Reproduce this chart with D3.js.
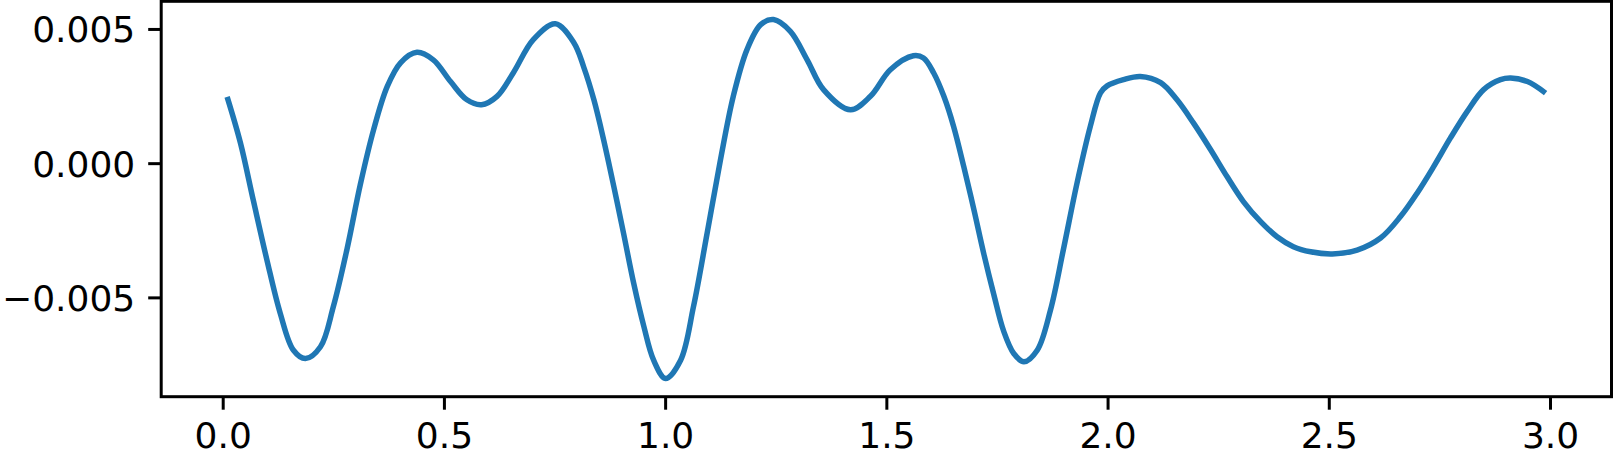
<!DOCTYPE html>
<html>
<head>
    <meta charset="utf-8">
    <style>
        body { margin: 0; background: #fff; }
        svg { display: block; }
        .tick text { font-family: "DejaVu Sans", sans-serif; font-size: 36px; fill: #000; }
        .tick line { stroke: #000; stroke-width: 3px; }
    </style>
    <script src="https://d3js.org/d3.v7.min.js"></script>
</head>
<body>
    <script>
        // values
        const xs = [0.01, 0.040, 0.069, 0.100, 0.130, 0.160, 0.187, 0.221, 0.250, 0.281, 0.311, 0.341, 0.372, 0.402, 0.439, 0.476, 0.515, 0.552, 0.585, 0.620, 0.657, 0.702, 0.752, 0.794, 0.816, 0.839, 0.861, 0.884, 0.906, 0.929, 0.952, 0.974, 1.001, 1.035, 1.064, 1.095, 1.125, 1.154, 1.185, 1.216, 1.245, 1.283, 1.321, 1.358, 1.419, 1.464, 1.509, 1.561, 1.584, 1.607, 1.630, 1.652, 1.675, 1.698, 1.720, 1.743, 1.765, 1.788, 1.811, 1.841, 1.871, 1.900, 1.931, 1.961, 1.984, 1.999, 2.036, 2.074, 2.120, 2.157, 2.194, 2.233, 2.270, 2.307, 2.346, 2.383, 2.420, 2.459, 2.508, 2.564, 2.617, 2.662, 2.700, 2.737, 2.775, 2.813, 2.850, 2.888, 2.911, 2.949, 2.99];
        const ys = [0.00247, 0.00076, -0.00137, -0.00361, -0.00559, -0.00697, -0.00728, -0.00684, -0.00535, -0.00320, -0.00080, 0.00124, 0.00286, 0.00374, 0.00413, 0.00385, 0.00304, 0.00236, 0.00218, 0.00249, 0.00337, 0.00460, 0.00519, 0.00448, 0.00358, 0.00236, 0.00087, -0.00087, -0.00261, -0.00448, -0.00609, -0.00734, -0.00802, -0.00734, -0.00535, -0.00260, 0.00012, 0.00249, 0.00423, 0.00516, 0.00535, 0.00491, 0.00385, 0.00274, 0.00199, 0.00249, 0.00348, 0.00400, 0.00392, 0.00336, 0.00249, 0.00137, -0.00013, -0.00174, -0.00336, -0.00490, -0.00625, -0.00709, -0.00740, -0.00697, -0.00547, -0.00323, -0.00074, 0.00137, 0.00262, 0.00288, 0.00311, 0.00323, 0.00300, 0.00236, 0.00150, 0.00050, -0.00050, -0.00143, -0.00218, -0.00274, -0.00311, -0.00330, -0.00338, -0.00324, -0.00279, -0.00199, -0.00111, -0.00013, 0.00094, 0.00193, 0.00274, 0.00311, 0.00317, 0.00304, 0.00261];
        const xTicks = [0, 0.5, 1, 1.5, 2, 2.5, 3];
        const yTicks = [-0.005, 0, 0.005];

        const width = 1613, height = 453;
        const margin = { left: 161.2, right: 1611.5, top: 1.3, bottom: 396.7 };

        const x = d3.scaleLinear().domain([-0.139, 3.139]).range([margin.left, margin.right]);
        const y = d3.scaleLinear().domain([-0.0087, 0.00603]).range([margin.bottom, margin.top]);

        const svg = d3.select('body').append('svg')
            .attr('width', width)
            .attr('height', height);

        const points = xs.map((v, i) => [v, ys[i]]);

        const line = d3.line()
            .x(d => x(d[0]))
            .y(d => y(d[1]))
            .curve(d3.curveCatmullRom.alpha(0.5));

        svg.append('path')
            .datum(points)
            .attr('fill', 'none')
            .attr('stroke', '#1f77b4')
            .attr('stroke-width', 5.5)
            .attr('stroke-linecap', 'butt')
            .attr('d', line);

        // axes
        const xAxis = svg.append('g')
            .attr('transform', `translate(0,${margin.bottom})`)
            .call(d3.axisBottom(x).tickValues(xTicks).tickFormat(d3.format('.1f')).tickSize(13).tickPadding(13));
        xAxis.select('.domain').remove();

        const yAxis = svg.append('g')
            .attr('transform', `translate(${margin.left},0)`)
            .call(d3.axisLeft(y).tickValues(yTicks).tickFormat(d => d3.format('.3f')(d).replace('-', '\u2212')).tickSize(13).tickPadding(13));
        yAxis.select('.domain').remove();
        yAxis.selectAll('.tick text').attr('dy', '0.36em');

        // frame
        svg.append('rect')
            .attr('x', margin.left)
            .attr('y', margin.top)
            .attr('width', margin.right - margin.left)
            .attr('height', margin.bottom - margin.top)
            .attr('fill', 'none')
            .attr('stroke', '#000')
            .attr('stroke-width', 3);
    </script>
</body>
</html>
